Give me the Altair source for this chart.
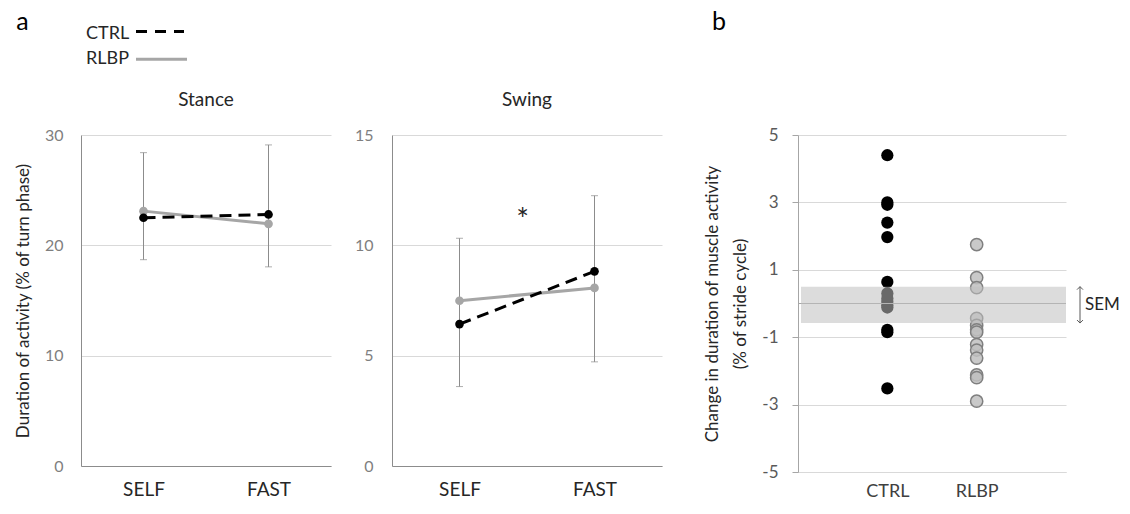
import altair as alt
import pandas as pd

FONT = "Lato"

# ---------------- data ----------------
speeds = ["SELF", "FAST"]
groups = ["CTRL", "RLBP"]
panel_labels = ["a", "b"]

stance_ctrl = [22.5, 22.8]
stance_rlbp = [23.1, 21.95]
stance_err_lo = [18.7, 18.05]
stance_err_hi = [28.4, 29.1]

swing_ctrl = [6.43, 8.82]
swing_rlbp = [7.49, 8.07]
swing_err_lo = [3.6, 4.72]
swing_err_hi = [10.32, 12.25]
swing_sig_y = 11.45

ctrl_change = [4.4, 3.0, 2.93, 2.4, 1.97, 0.64, 0.3, 0.15, 0.05, -0.05, -0.12, -0.78, -0.85, -2.52]
rlbp_change = [1.75, 0.77, 0.47, -0.44, -0.65, -0.78, -0.85, -1.22, -1.38, -1.62, -2.12, -2.2, -2.9]
sem_hi = 0.5
sem_lo = -0.58

stance_ticks = [0, 10, 20, 30]
swing_ticks = [0, 5, 10, 15]
change_ticks = [-5, -3, -1, 1, 3, 5]

GRID = "#d9d9d9"
DARK = "#262626"
RLBP_COL = "#a6a6a6"
ERR_COL = "#8c8c8c"

PH = 331  # panel a plot height
BH = 337  # panel b plot height


def phase_chart(title, ctrl, rlbp, lo, hi, ticks, width, ytitle, sig_y=None):
    ctrl_df = pd.DataFrame({"speed": speeds, "value": ctrl})
    rlbp_df = pd.DataFrame({"speed": speeds, "value": rlbp})
    err_df = pd.DataFrame({"speed": speeds, "lo": lo, "hi": hi})

    x = alt.X(
        "speed:N",
        sort=speeds,
        scale=alt.Scale(type="point", domain=speeds, padding=0.5),
        axis=alt.Axis(
            title=None, labelAngle=0, ticks=False, tickSize=0, labelPadding=14,
            labelFontSize=19, labelColor=DARK, labelFont=FONT,
            domainColor="#8c8c8c", grid=False,
        ),
    )
    common = dict(
        values=ticks, grid=True, gridColor=GRID, domainColor="#8c8c8c",
        ticks=False, tickSize=0, labelFontSize=16,
        labelColor="#7f7f7f", labelFont=FONT,
    )
    if ytitle:
        yaxis = alt.Axis(
            labelPadding=18, title=ytitle, titleFontSize=17, titleFontWeight="normal",
            titleColor=DARK, titleFont=FONT, titlePadding=12, **common,
        )
    else:
        yaxis = alt.Axis(labelPadding=19, title=None, **common)
    yscale = alt.Scale(domain=[ticks[0], ticks[-1]], nice=False)

    err = alt.Chart(err_df).mark_rule(color=ERR_COL, strokeWidth=1).encode(
        x=x, y=alt.Y("lo:Q", scale=yscale, axis=yaxis), y2="hi:Q"
    )
    cap_lo = alt.Chart(err_df).mark_tick(color=ERR_COL, thickness=1, size=7).encode(
        x=x, y=alt.Y("lo:Q", scale=yscale)
    )
    cap_hi = alt.Chart(err_df).mark_tick(color=ERR_COL, thickness=1, size=7).encode(
        x=x, y=alt.Y("hi:Q", scale=yscale)
    )
    r_line = alt.Chart(rlbp_df).mark_line(color=RLBP_COL, strokeWidth=3).encode(
        x=x, y=alt.Y("value:Q", scale=yscale)
    )
    r_pt = alt.Chart(rlbp_df).mark_circle(color=RLBP_COL, size=75, opacity=1).encode(
        x=x, y=alt.Y("value:Q", scale=yscale)
    )
    c_line = alt.Chart(ctrl_df).mark_line(color="black", strokeWidth=3, strokeDash=[12, 7]).encode(
        x=x, y=alt.Y("value:Q", scale=yscale)
    )
    c_pt = alt.Chart(ctrl_df).mark_circle(color="black", size=75, opacity=1).encode(
        x=x, y=alt.Y("value:Q", scale=yscale)
    )
    layers = [err, cap_lo, cap_hi, r_line, r_pt, c_line, c_pt]
    if sig_y is not None:
        sig_df = pd.DataFrame({"speed": [speeds[0]], "y": [sig_y]})
        layers.append(
            alt.Chart(sig_df).mark_text(
                text="*", fontSize=30, font=FONT, color=DARK, dx=63, dy=8, baseline="middle"
            ).encode(x=x, y=alt.Y("y:Q", scale=yscale))
        )
    return alt.layer(*layers).properties(
        width=width, height=PH,
        title=alt.TitleParams(
            text=title, fontSize=19, font=FONT, fontWeight="normal",
            color=DARK, offset=17, anchor="middle",
        ),
    )


stance = phase_chart("Stance", stance_ctrl, stance_rlbp, stance_err_lo, stance_err_hi,
                     stance_ticks, 250, "Duration of activity (% of turn phase)")
swing = phase_chart("Swing", swing_ctrl, swing_rlbp, swing_err_lo, swing_err_hi,
                    swing_ticks, 270, None, sig_y=swing_sig_y)

# ---------------- panel b ----------------
BW = 268
ctrl_df = pd.DataFrame({"group": [groups[0]] * len(ctrl_change), "change": ctrl_change})
rlbp_df = pd.DataFrame({"group": [groups[1]] * len(rlbp_change), "change": rlbp_change})
sem_df = pd.DataFrame({"hi": [sem_hi], "lo": [sem_lo], "mid": [(sem_hi + sem_lo) / 2], "label": ["SEM"]})
zero_df = pd.DataFrame({"y": [0]})

bx = alt.X(
    "group:N", sort=groups,
    scale=alt.Scale(type="point", domain=groups, padding=1),
    axis=alt.Axis(
        title=None, labelAngle=0, ticks=False, tickSize=0, labelPadding=10,
        labelFontSize=18, labelColor="#404040", labelFont=FONT,
        domainColor=GRID, grid=False,
    ),
)
byscale = alt.Scale(domain=[-5, 5], nice=False)
byaxis = alt.Axis(
    values=change_ticks, grid=True, gridColor=GRID, domainColor="#a6a6a6",
    tickColor="#a6a6a6", tickSize=6, labelPadding=14, labelFontSize=17,
    labelColor="#595959", labelFont=FONT, labelExpr="'' + datum.value",
    title=["Change in duration of muscle activity", "(% of stride cycle)"],
    titleFontSize=17, titleFontWeight="normal", titleColor=DARK, titleFont=FONT,
    titlePadding=12, titleLineHeight=28,
)

c_dots = alt.Chart(ctrl_df).mark_circle(color="black", size=150, opacity=1).encode(
    x=bx, y=alt.Y("change:Q", scale=byscale, axis=byaxis)
)
r_dots = alt.Chart(rlbp_df).mark_point(
    shape="circle", filled=True, fill="#bfbfbf", stroke="#7f7f7f",
    strokeWidth=1.5, size=150, fillOpacity=0.85, opacity=1,
).encode(x=bx, y=alt.Y("change:Q", scale=byscale))
zero_line = alt.Chart(zero_df).mark_rule(color="#a6a6a6", strokeWidth=1).encode(
    y=alt.Y("y:Q", scale=byscale), x=alt.value(0), x2=alt.value(BW)
)
band = alt.Chart(sem_df).mark_rect(color="#bfbfbf", opacity=0.55).encode(
    y=alt.Y("hi:Q", scale=byscale), y2="lo:Q", x=alt.value(3), x2=alt.value(BW)
)
arrow = alt.Chart(sem_df).mark_rule(color="#595959", strokeWidth=1).encode(
    y=alt.Y("hi:Q", scale=byscale), y2="lo:Q", x=alt.value(BW + 14)
)
head_up = alt.Chart(sem_df).mark_point(
    shape="M-1,1L0,0L1,1", size=36, filled=False, color="#595959", strokeWidth=1, opacity=1
).encode(y=alt.Y("hi:Q", scale=byscale), x=alt.value(BW + 14))
head_dn = alt.Chart(sem_df).mark_point(
    shape="M-1,-1L0,0L1,-1", size=36, filled=False, color="#595959", strokeWidth=1, opacity=1
).encode(y=alt.Y("lo:Q", scale=byscale), x=alt.value(BW + 14))
sem_text = alt.Chart(sem_df).mark_text(
    align="left", baseline="middle", fontSize=17, font=FONT, color=DARK
).encode(y=alt.Y("mid:Q", scale=byscale), x=alt.value(BW + 19), text="label:N")

panel_b = alt.layer(c_dots, r_dots, zero_line, band, arrow, head_up, head_dn, sem_text).properties(
    width=BW, height=BH,
)

# empty spacer between panel a and panel b
spacer = alt.Chart(pd.DataFrame({"v": [0]})).mark_point(opacity=0).encode(
    x=alt.value(0), y=alt.value(0)
).properties(width=14, height=PH)

# ---------------- top strip: panel letters + legend ----------------
TH = 127


def txt(s, x, y, size, color, align="left"):
    return alt.Chart(pd.DataFrame({"t": [s]})).mark_text(
        fontSize=size, font=FONT, color=color, align=align, baseline="alphabetic"
    ).encode(text="t:N", x=alt.value(x), y=alt.value(y))


def legline(g, x1, x2, y, color, dash):
    return alt.Chart(pd.DataFrame({"g": [g]})).mark_rule(
        strokeWidth=3, color=color, strokeDash=dash
    ).encode(x=alt.value(x1), x2=alt.value(x2), y=alt.value(y))


top = alt.layer(
    txt(panel_labels[0], -58.5, 22, 25, "black", "center"),
    txt(panel_labels[1], 638, 22, 25, "black", "center"),
    txt(groups[0], 5, 30.5, 18, DARK),
    txt(groups[1], 5, 56, 18, DARK),
    legline(groups[0], 55, 103, 23.5, "black", [11, 8]),
    legline(groups[1], 55, 106, 51.2, RLBP_COL, [1, 0]),
).properties(width=700, height=TH)

row = alt.hconcat(stance, swing, spacer, panel_b, spacing=61, bounds="flush")

chart = alt.vconcat(top, row, spacing=0, bounds="flush").properties(
    padding={"left": 6, "top": 0, "right": 0, "bottom": 0}
).configure(font=FONT, view=alt.ViewConfig(strokeWidth=0))

chart.save("out.html", embed_options={"renderer": "svg", "actions": False})
